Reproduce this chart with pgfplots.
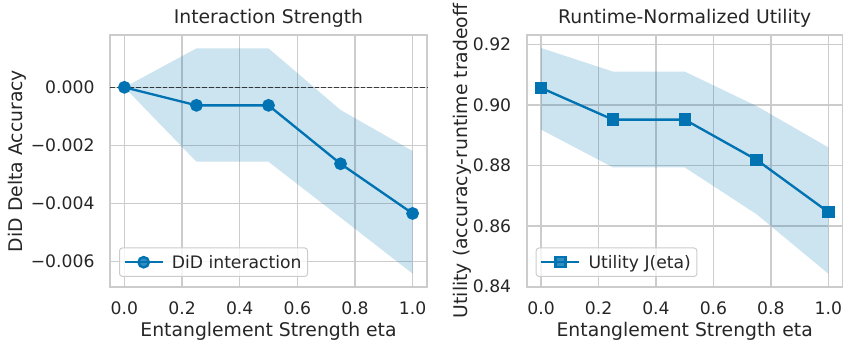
\documentclass[border=0pt]{standalone}
\usepackage{fontspec}
\setmainfont{DejaVu Sans}
\usepackage{pgfplots}
\pgfplotsset{compat=1.18}
\definecolor{cblue}{HTML}{0173B2}
\definecolor{gridc}{HTML}{CCCCCC}
\definecolor{txt}{HTML}{262626}
\pgfplotsset{
  mystyle/.style={
    scale only axis, width=317bp, height=252bp,
    xmin=-0.05, xmax=1.05,
    xtick={0,0.2,0.4,0.6,0.8,1.0},
    xticklabels={0.0,0.2,0.4,0.6,0.8,1.0},
    axis line style={draw=gridc, line width=1.6bp},
    grid=major,
    major grid style={draw=gridc, line width=1.4bp},
    major tick length=0pt,
    tick label style={font=\fontsize{17.2bp}{20bp}\selectfont, text=txt},
    xticklabel style={anchor=base, yshift=-27bp},
    yticklabel style={anchor=east, xshift=-12bp},
    /pgf/number format/assume math mode=true,
    label style={font=\fontsize{18.8bp}{22bp}\selectfont, text=txt},
    xlabel style={at={(axis description cs:0.5,0)}, anchor=base, yshift=-49bp},
    title style={font=\fontsize{18.8bp}{22bp}\selectfont, text=txt, at={(axis description cs:0.5,1)}, anchor=base, yshift=6bp},
    legend style={at={(rel axis cs:0.0284,0.0397)}, anchor=south west,
      font=\fontsize{17.2bp}{20bp}\selectfont, text=txt,
      draw=gridc, line width=1bp, rounded corners=3bp, fill=white, fill opacity=0.8, text opacity=1,
      inner xsep=4bp, inner ysep=5bp, column sep=6bp},
    legend cell align=left,
    legend image code/.code={\draw[mark repeat=2,mark phase=2] plot coordinates {(0bp,0bp)(19bp,0bp)(38bp,0bp)};},
    clip=false,
  }
}
\begin{document}
\begin{tikzpicture}
\useasboundingbox (-110bp,-54bp) rectangle (733bp,287bp);
\begin{axis}[mystyle, at={(0bp,0bp)},
  ymin=-0.00687, ymax=0.0018,
  scaled y ticks=false,
  ytick={-0.006,-0.004,-0.002,0},
  yticklabels={−0.006,−0.004,−0.002,0.000},
  title={Interaction Strength},
  xlabel={Entanglement Strength eta},
  ylabel={DiD Delta Accuracy},
  ylabel style={at={(axis description cs:-0.2934,0.5)}, rotate=0, anchor=center},
]
\addplot[fill=cblue, fill opacity=0.2, draw=none, forget plot] coordinates {
  (0,0) (0.25,0.00134) (0.5,0.00134) (0.75,-0.00078) (1.0,-0.00219)
  (1.0,-0.00641) (0.75,-0.00448) (0.5,-0.00256) (0.25,-0.00256) (0,0)} -- cycle;
\addplot[draw=black, draw opacity=0.7, line width=1.2bp, dash pattern=on 4.6bp off 2bp, forget plot] coordinates {(-0.05,0) (1.05,0)};
\addplot[cblue, line width=2.35bp, mark=*, mark size=5.2bp, mark options={solid, fill=cblue, draw=cblue}] coordinates {
  (0,0) (0.25,-0.00062) (0.5,-0.00062) (0.75,-0.00263) (1.0,-0.00434)};
\addlegendentry{DiD interaction}
\end{axis}
\begin{axis}[mystyle, at={(416.7bp,0bp)}, width=316bp,
  ymin=0.8398, ymax=0.9232,
  ytick={0.84,0.86,0.88,0.90,0.92},
  yticklabels={0.84,0.86,0.88,0.90,0.92},
  title={Runtime-Normalized Utility},
  xlabel={Entanglement Strength eta},
  ylabel={Utility (accuracy-runtime tradeoff},
  ylabel style={at={(axis description cs:-0.211,0.5)}, rotate=0, anchor=center, yshift=-2bp},
]
\addplot[fill=cblue, fill opacity=0.2, draw=none, forget plot] coordinates {
  (0,0.9189) (0.25,0.9111) (0.5,0.9111) (0.75,0.8997) (1.0,0.8860)
  (1.0,0.8442) (0.75,0.8639) (0.5,0.8794) (0.25,0.8794) (0,0.8919)} -- cycle;
\addplot[cblue, line width=2.35bp, mark=square*, mark size=5bp, mark options={solid, fill=cblue, draw=cblue}] coordinates {
  (0,0.9057) (0.25,0.8952) (0.5,0.8952) (0.75,0.8819) (1.0,0.8646)};
\addlegendentry{Utility J(eta)}
\end{axis}
\end{tikzpicture}
\end{document}
